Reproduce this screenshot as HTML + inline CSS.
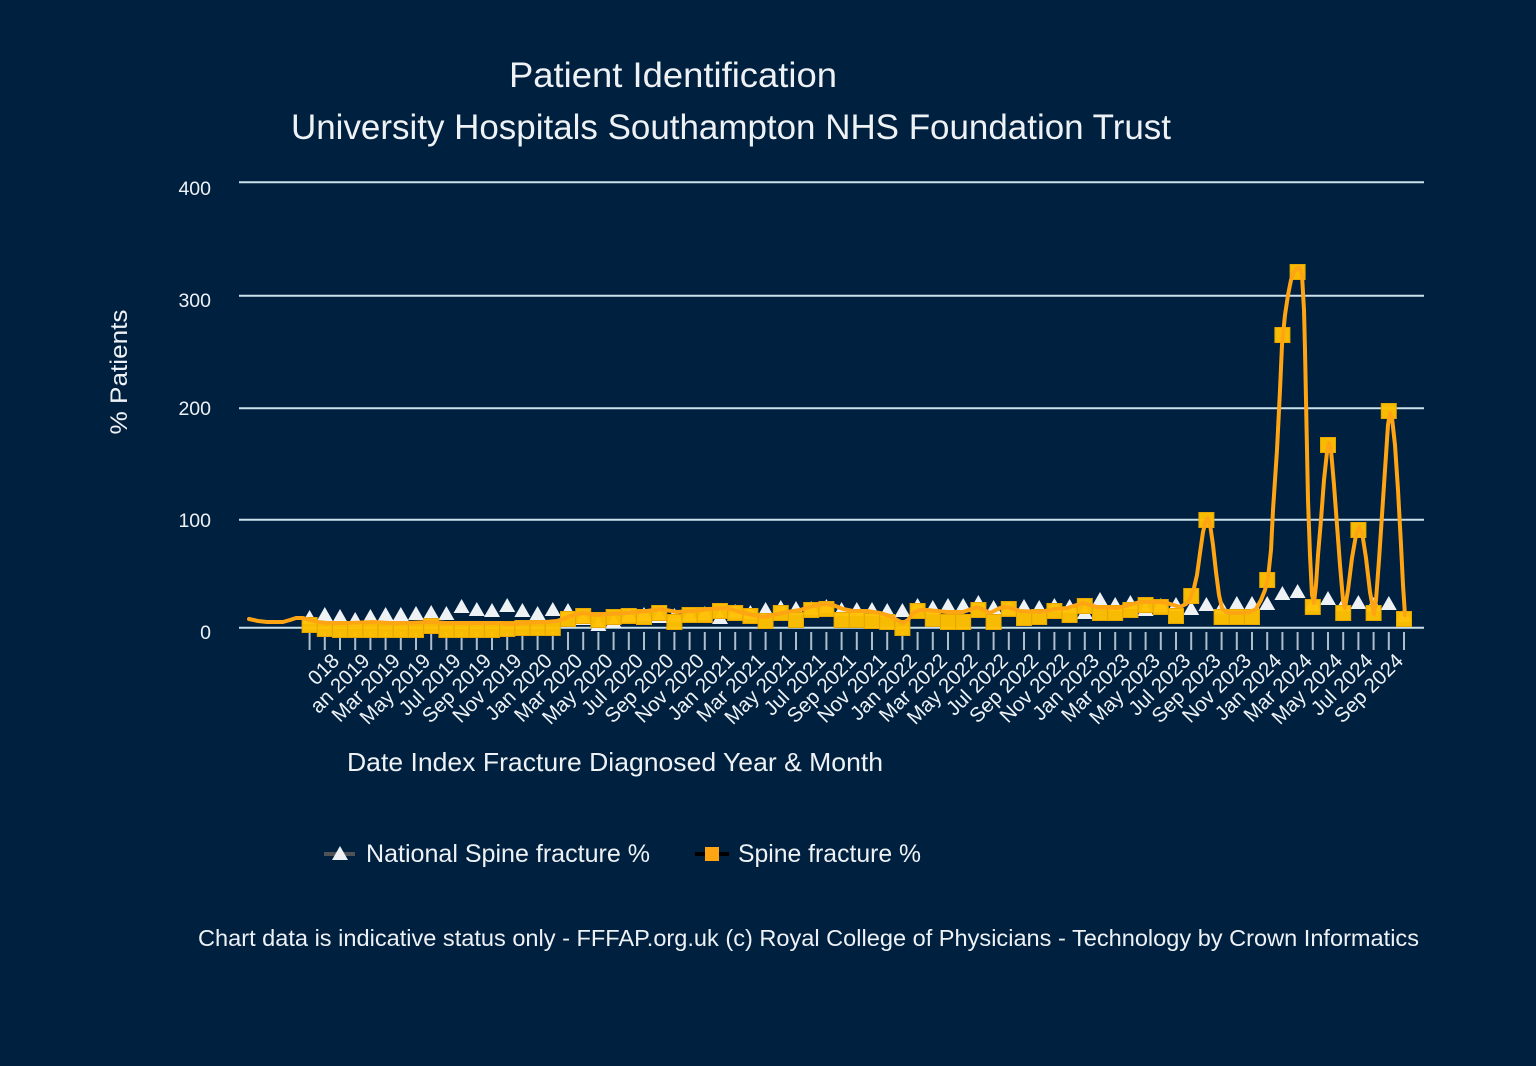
<!DOCTYPE html>
<html><head><meta charset="utf-8"><style>
html,body{margin:0;padding:0;background:#002040;}
svg{display:block;}
text{font-family:"Liberation Sans",Arial,sans-serif;fill:#eef2f5;}
</style></head><body>
<svg width="1536" height="1066" viewBox="0 0 1536 1066" xmlns="http://www.w3.org/2000/svg">
<rect width="1536" height="1066" fill="#002040"/>
<text x="673" y="87" font-size="35" text-anchor="middle" textLength="328" lengthAdjust="spacingAndGlyphs">Patient Identification</text>
<text x="731" y="139" font-size="35" text-anchor="middle" textLength="880" lengthAdjust="spacingAndGlyphs">University Hospitals Southampton NHS Foundation Trust</text>
<g stroke="#c9e1ea" stroke-width="2">
<line x1="239" y1="182.3" x2="1424" y2="182.3"/>
<line x1="239" y1="295.7" x2="1424" y2="295.7"/>
<line x1="239" y1="408.3" x2="1424" y2="408.3"/>
<line x1="239" y1="519.7" x2="1424" y2="519.7"/>
<line x1="239" y1="627.7" x2="1424" y2="627.7"/>
</g>
<g font-size="19.5" text-anchor="end">
<text x="211" y="195">400</text>
<text x="211" y="307">300</text>
<text x="211" y="415">200</text>
<text x="211" y="527">100</text>
<text x="211" y="639">0</text>
</g>
<text transform="translate(127,372) rotate(-90)" font-size="24" text-anchor="middle" textLength="125" lengthAdjust="spacingAndGlyphs">% Patients</text>
<path stroke="#aebccb" stroke-width="2" fill="none" d="M309.6 632v18M324.8 632v18M340 632v18M355.2 632v18M370.4 632v18M385.6 632v18M400.8 632v18M416 632v18M431.2 632v18M446.4 632v18M461.6 632v18M476.8 632v18M492 632v18M507.2 632v18M522.4 632v18M537.6 632v18M552.8 632v18M568 632v18M583.2 632v18M598.4 632v18M613.6 632v18M628.8 632v18M644 632v18M659.2 632v18M674.4 632v18M689.6 632v18M704.8 632v18M720 632v18M735.2 632v18M750.4 632v18M765.6 632v18M780.8 632v18M796 632v18M811.2 632v18M826.4 632v18M841.6 632v18M856.8 632v18M872 632v18M887.2 632v18M902.4 632v18M917.6 632v18M932.8 632v18M948 632v18M963.2 632v18M978.4 632v18M993.6 632v18M1008.8 632v18M1024 632v18M1039.2 632v18M1054.4 632v18M1069.6 632v18M1084.8 632v18M1100 632v18M1115.2 632v18M1130.4 632v18M1145.6 632v18M1160.8 632v18M1176 632v18M1191.2 632v18M1206.4 632v18M1221.6 632v18M1236.8 632v18M1252 632v18M1267.2 632v18M1282.4 632v18M1297.6 632v18M1312.8 632v18M1328 632v18M1343.2 632v18M1358.4 632v18M1373.6 632v18M1388.8 632v18M1404 632v18"/>
<g font-size="20.5" text-anchor="end">
<text transform="translate(340.5,662) rotate(-45)">018</text>
<text transform="translate(370.9,662) rotate(-45)">an 2019</text>
<text transform="translate(401.3,662) rotate(-45)">Mar 2019</text>
<text transform="translate(431.7,662) rotate(-45)">May 2019</text>
<text transform="translate(462.1,662) rotate(-45)">Jul 2019</text>
<text transform="translate(492.5,662) rotate(-45)">Sep 2019</text>
<text transform="translate(522.9,662) rotate(-45)">Nov 2019</text>
<text transform="translate(553.3,662) rotate(-45)">Jan 2020</text>
<text transform="translate(583.7,662) rotate(-45)">Mar 2020</text>
<text transform="translate(614.1,662) rotate(-45)">May 2020</text>
<text transform="translate(644.5,662) rotate(-45)">Jul 2020</text>
<text transform="translate(674.9,662) rotate(-45)">Sep 2020</text>
<text transform="translate(705.3,662) rotate(-45)">Nov 2020</text>
<text transform="translate(735.7,662) rotate(-45)">Jan 2021</text>
<text transform="translate(766.1,662) rotate(-45)">Mar 2021</text>
<text transform="translate(796.5,662) rotate(-45)">May 2021</text>
<text transform="translate(826.9,662) rotate(-45)">Jul 2021</text>
<text transform="translate(857.3,662) rotate(-45)">Sep 2021</text>
<text transform="translate(887.7,662) rotate(-45)">Nov 2021</text>
<text transform="translate(918.1,662) rotate(-45)">Jan 2022</text>
<text transform="translate(948.5,662) rotate(-45)">Mar 2022</text>
<text transform="translate(978.9,662) rotate(-45)">May 2022</text>
<text transform="translate(1009.3,662) rotate(-45)">Jul 2022</text>
<text transform="translate(1039.7,662) rotate(-45)">Sep 2022</text>
<text transform="translate(1070.1,662) rotate(-45)">Nov 2022</text>
<text transform="translate(1100.5,662) rotate(-45)">Jan 2023</text>
<text transform="translate(1130.9,662) rotate(-45)">Mar 2023</text>
<text transform="translate(1161.3,662) rotate(-45)">May 2023</text>
<text transform="translate(1191.7,662) rotate(-45)">Jul 2023</text>
<text transform="translate(1222.1,662) rotate(-45)">Sep 2023</text>
<text transform="translate(1252.5,662) rotate(-45)">Nov 2023</text>
<text transform="translate(1282.9,662) rotate(-45)">Jan 2024</text>
<text transform="translate(1313.3,662) rotate(-45)">Mar 2024</text>
<text transform="translate(1343.7,662) rotate(-45)">May 2024</text>
<text transform="translate(1374.1,662) rotate(-45)">Jul 2024</text>
<text transform="translate(1404.5,662) rotate(-45)">Sep 2024</text>
</g>
<!-- national triangles -->
<path fill="#eef2f5" d="M309.6 610l8 14h-16zM324.8 607l8 14h-16zM340 609l8 14h-16zM355.2 612l8 14h-16zM370.4 609l8 14h-16zM385.6 607l8 14h-16zM400.8 607l8 14h-16zM416 606l8 14h-16zM431.2 605l8 14h-16zM446.4 606l8 14h-16zM461.6 599l8 14h-16zM476.8 602l8 14h-16zM492 603l8 14h-16zM507.2 598l8 14h-16zM522.4 603l8 14h-16zM537.6 606l8 14h-16zM552.8 602l8 14h-16zM568 603l8 14h-16zM583.2 611l8 14h-16zM598.4 617l8 14h-16zM613.6 614l8 14h-16zM628.8 608l8 14h-16zM644 607l8 14h-16zM659.2 609l8 14h-16zM674.4 608l8 14h-16zM689.6 608l8 14h-16zM704.8 606l8 14h-16zM720 610l8 14h-16zM735.2 604l8 14h-16zM750.4 605l8 14h-16zM765.6 602l8 14h-16zM780.8 600l8 14h-16zM796 601l8 14h-16zM811.2 601l8 14h-16zM826.4 599l8 14h-16zM841.6 602l8 14h-16zM856.8 602l8 14h-16zM872 602l8 14h-16zM887.2 603l8 14h-16zM902.4 603l8 14h-16zM917.6 598l8 14h-16zM932.8 600l8 14h-16zM948 598l8 14h-16zM963.2 598l8 14h-16zM978.4 595l8 14h-16zM993.6 600l8 14h-16zM1008.8 601l8 14h-16zM1024 599l8 14h-16zM1039.2 600l8 14h-16zM1054.4 598l8 14h-16zM1069.6 599l8 14h-16zM1084.8 605l8 14h-16zM1100 592l8 14h-16zM1115.2 597l8 14h-16zM1130.4 595l8 14h-16zM1145.6 602l8 14h-16zM1160.8 598l8 14h-16zM1176 597l8 14h-16zM1191.2 601l8 14h-16zM1206.4 597l8 14h-16zM1221.6 600l8 14h-16zM1236.8 596l8 14h-16zM1252 596l8 14h-16zM1267.2 596l8 14h-16zM1282.4 586l8 14h-16zM1297.6 584l8 14h-16zM1312.8 597l8 14h-16zM1328 591l8 14h-16zM1343.2 597l8 14h-16zM1358.4 595l8 14h-16zM1373.6 597l8 14h-16zM1388.8 596l8 14h-16zM1404 608l8 14h-16z"/>
<!-- spine squares -->
<path fill="#ffc000" fill-opacity="0.97" stroke="#e8a600" stroke-width="1" d="M302.1 617.5h15v15h-15zM317.3 621.5h15v15h-15zM332.5 622.5h15v15h-15zM347.7 622.5h15v15h-15zM362.9 622.5h15v15h-15zM378.1 622.5h15v15h-15zM393.3 622.5h15v15h-15zM408.5 622.5h15v15h-15zM423.7 618.5h15v15h-15zM438.9 622.5h15v15h-15zM454.1 622.5h15v15h-15zM469.3 622.5h15v15h-15zM484.5 622.5h15v15h-15zM499.7 621.5h15v15h-15zM514.9 620.5h15v15h-15zM530.1 620.5h15v15h-15zM545.3 620.5h15v15h-15zM560.5 611.5h15v15h-15zM575.7 608.5h15v15h-15zM590.9 612.5h15v15h-15zM606.1 609.5h15v15h-15zM621.3 608.5h15v15h-15zM636.5 609.5h15v15h-15zM651.7 605.5h15v15h-15zM666.9 614.5h15v15h-15zM682.1 607.5h15v15h-15zM697.3 607.5h15v15h-15zM712.5 603.5h15v15h-15zM727.7 605.5h15v15h-15zM742.9 608.5h15v15h-15zM758.1 613.5h15v15h-15zM773.3 605.5h15v15h-15zM788.5 612.5h15v15h-15zM803.7 602.5h15v15h-15zM818.9 601.5h15v15h-15zM834.1 612.5h15v15h-15zM849.3 612.5h15v15h-15zM864.5 613.5h15v15h-15zM879.7 614.5h15v15h-15zM894.9 620.5h15v15h-15zM910.1 603.5h15v15h-15zM925.3 611.5h15v15h-15zM940.5 614.5h15v15h-15zM955.7 614.5h15v15h-15zM970.9 602.5h15v15h-15zM986.1 614.5h15v15h-15zM1001.3 601.5h15v15h-15zM1016.5 610.5h15v15h-15zM1031.7 609.5h15v15h-15zM1046.9 603.5h15v15h-15zM1062.1 607.5h15v15h-15zM1077.3 598.5h15v15h-15zM1092.5 605.5h15v15h-15zM1107.7 605.5h15v15h-15zM1122.9 602.5h15v15h-15zM1138.1 597.5h15v15h-15zM1153.3 599.5h15v15h-15zM1168.5 608.5h15v15h-15zM1183.7 588.5h15v15h-15zM1198.9 512.5h15v15h-15zM1214.1 609.5h15v15h-15zM1229.3 609.5h15v15h-15zM1244.5 609.5h15v15h-15zM1259.7 572.5h15v15h-15zM1274.9 327.5h15v15h-15zM1290.1 264.5h15v15h-15zM1305.3 599.5h15v15h-15zM1320.5 437.5h15v15h-15zM1335.7 605.5h15v15h-15zM1350.9 522.5h15v15h-15zM1366.1 605.5h15v15h-15zM1381.3 403.5h15v15h-15zM1396.5 611.5h15v15h-15z"/>
<!-- spline -->
<polyline fill="none" stroke="#ffa514" stroke-width="4" stroke-linejoin="round" stroke-linecap="round" points="249,619 258,621 267,622 283,622 290,620 296,618 303,618 310,620 318,622 327,623 350,623 373,622 390,623 407,623 430,622 447,623 473,623 500,623 510,624 523,623 545,622 557,621 563,619 570,616 583,613 597,615 610,614 627,613 647,611 660,609 677,612 693,611 710,609 727,608 740,612 753,615 763,617 773,615 787,612 800,610 813,606 823,604 833,605 843,609 853,611 867,611 880,613 890,616 897,620 903,623 908,620 913,613 920,610 927,610 947,612 963,612 977,607 984,610 990,613 1000,608 1007,607 1020,611 1040,612 1055,609 1067,608 1083,603 1097,607 1117,608 1140,602 1160,602 1167,603 1180,607 1186,604 1190,599 1194,588 1197,575 1200,553 1203,532 1206,520 1208,518 1210,524 1213,545 1216,572 1219,595 1222,608 1226,612 1232,613 1240,613 1250,612 1256,609 1261,600 1265,590 1268,578 1271,550 1273,510 1275,480 1277,450 1280,390 1282,345 1285,315 1288,295 1291,280 1294,272 1297,268 1300,268 1302,275 1304,310 1305,350 1306,400 1307,450 1308,500 1310,555 1312,595 1314,603 1316,585 1318,555 1321,520 1324,480 1327,452 1329,443 1331,450 1334,485 1337,525 1340,565 1343,600 1345,608 1348,590 1352,558 1356,535 1359,527 1362,532 1366,558 1370,592 1374,614 1376,600 1379,560 1382,515 1385,470 1388,425 1390,413 1392,418 1395,445 1398,490 1401,545 1403,585 1405,615"/>
<text x="615" y="771" font-size="26" text-anchor="middle" textLength="536" lengthAdjust="spacingAndGlyphs">Date Index Fracture Diagnosed Year &amp; Month</text>
<!-- legend -->
<line x1="324" y1="854" x2="355" y2="854" stroke="#4f5358" stroke-width="4"/>
<path fill="#eef2f5" d="M340 846l8 14h-16z"/>
<text x="366" y="862" font-size="25" textLength="284" lengthAdjust="spacingAndGlyphs">National Spine fracture %</text>
<line x1="695" y1="854" x2="729" y2="854" stroke="#000" stroke-width="4"/>
<rect x="705" y="847" width="14" height="14" fill="#ffa514"/>
<text x="738" y="862" font-size="25" textLength="183" lengthAdjust="spacingAndGlyphs">Spine fracture %</text>
<text x="198" y="946" font-size="23" textLength="1221" lengthAdjust="spacingAndGlyphs">Chart data is indicative status only - FFFAP.org.uk (c) Royal College of Physicians - Technology by Crown Informatics</text>
</svg>
</body></html>
